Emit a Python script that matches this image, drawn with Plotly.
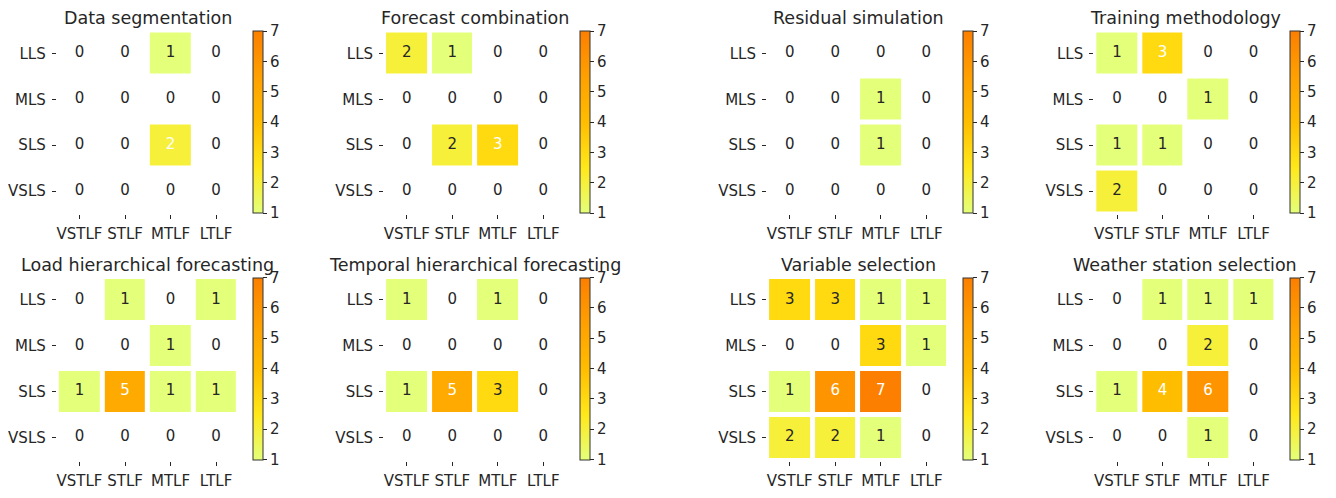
import plotly.graph_objects as go

rows = ["LLS", "MLS", "SLS", "VSLS"]
cols = ["VSTLF", "STLF", "MTLF", "LTLF"]

titles = [
    "Data segmentation", "Forecast combination", "Residual simulation", "Training methodology",
    "Load hierarchical forecasting", "Temporal hierarchical forecasting", "Variable selection",
    "Weather station selection",
]

data_segmentation = [[0, 0, 1, 0], [0, 0, 0, 0], [0, 0, 2, 0], [0, 0, 0, 0]]
forecast_combination = [[2, 1, 0, 0], [0, 0, 0, 0], [0, 2, 3, 0], [0, 0, 0, 0]]
residual_simulation = [[0, 0, 0, 0], [0, 0, 1, 0], [0, 0, 1, 0], [0, 0, 0, 0]]
training_methodology = [[1, 3, 0, 0], [0, 0, 1, 0], [1, 1, 0, 0], [2, 0, 0, 0]]
load_hierarchical = [[0, 1, 0, 1], [0, 0, 1, 0], [1, 5, 1, 1], [0, 0, 0, 0]]
temporal_hierarchical = [[1, 0, 1, 0], [0, 0, 0, 0], [1, 5, 3, 0], [0, 0, 0, 0]]
variable_selection = [[3, 3, 1, 1], [0, 0, 3, 1], [1, 6, 7, 0], [2, 2, 1, 0]]
weather_station = [[0, 1, 1, 1], [0, 0, 2, 0], [1, 4, 6, 0], [0, 0, 1, 0]]

matrices = [data_segmentation, forecast_combination, residual_simulation, training_methodology,
            load_hierarchical, temporal_hierarchical, variable_selection, weather_station]

OFF = 8  # browser body margin
W, H = 1336 - OFF, 498 - OFF
wistia = [[0.0, "#e4ff7a"], [0.25, "#ffe81a"], [0.5, "#ffbd00"], [0.75, "#ffa000"], [1.0, "#fc7f00"]]
DARK = "#262626"
FONT = "DejaVu Sans"
TS = 15

col_x = [50, 379, 764, 1093]
row_y = [30.5, 277]
PW, PH = 183, 183.5

def px(x):
    return (x - OFF) / W

def py(y):
    return 1 - (y - OFF) / H

fig = go.Figure()
layout = dict(
    width=W, height=H, margin=dict(l=0, r=0, t=0, b=0),
    paper_bgcolor="white", plot_bgcolor="white", showlegend=False,
    font=dict(family=FONT, color=DARK, size=TS),
)
annotations = []

for i, (title, m) in enumerate(zip(titles, matrices)):
    r, c = divmod(i, 4)
    k = "" if i == 0 else str(i + 1)
    x0, y0 = col_x[c], row_y[r]
    z = [[(v if v != 0 else None) for v in row] for row in m]
    mx = max(max(row) for row in m)
    fig.add_trace(go.Heatmap(
        z=z, x=list(range(4)), y=list(range(4)), zmin=1, zmax=7,
        colorscale=wistia, xgap=5, ygap=5, xaxis="x" + k, yaxis="y" + k,
        hoverinfo="skip",
        colorbar=dict(
            x=px(x0 + PW + 14), xanchor="left", xpad=0,
            y=py(y0 + 0.5), yanchor="top", ypad=0,
            len=182, lenmode="pixels", thickness=10, thicknessmode="pixels",
            outlinewidth=1, outlinecolor="#333333",
            tickvals=[1, 2, 3, 4, 5, 6, 7], ticks="outside", ticklen=4,
            tickcolor=DARK, tickfont=dict(size=TS, color=DARK, family=FONT),
        ),
    ))
    xs, ys, ts, cs = [], [], [], []
    for ri in range(4):
        for ci in range(4):
            v = m[ri][ci]
            xs.append(ci)
            ys.append(ri)
            ts.append(str(v))
            white = mx > 1 and v > 0 and (v - 1) / (mx - 1) >= 0.6
            cs.append("white" if white else DARK)
    fig.add_trace(go.Scatter(
        x=xs, y=ys, text=ts, mode="text", xaxis="x" + k, yaxis="y" + k,
        textfont=dict(size=TS, color=cs, family=FONT), hoverinfo="skip",
    ))
    layout["xaxis" + k] = dict(
        domain=[px(x0), px(x0 + PW)], anchor="y" + k, range=[-0.5, 3.5],
        tickvals=list(range(4)), ticktext=cols, ticks="outside", ticklen=4,
        tickcolor=DARK, showgrid=False, zeroline=False, showline=False,
        tickfont=dict(size=TS, color=DARK, family=FONT), fixedrange=True,
        ticklabelstandoff=2,
    )
    layout["yaxis" + k] = dict(
        domain=[py(y0 + PH), py(y0)], anchor="x" + k, range=[3.5, -0.5],
        tickvals=list(range(4)), ticktext=rows, ticks="outside", ticklen=4,
        tickcolor=DARK, showgrid=False, zeroline=False, showline=False,
        tickfont=dict(size=TS, color=DARK, family=FONT), fixedrange=True,
        ticklabelstandoff=3,
    )
    annotations.append(dict(
        text=title, x=px(x0 + PW / 2), y=py([18, 265][r]), xref="paper", yref="paper",
        xanchor="center", yanchor="middle", showarrow=False,
        font=dict(size=17.5, color=DARK, family=FONT),
    ))

layout["annotations"] = annotations
fig.update_layout(**layout)
fig.write_html("out.html")
